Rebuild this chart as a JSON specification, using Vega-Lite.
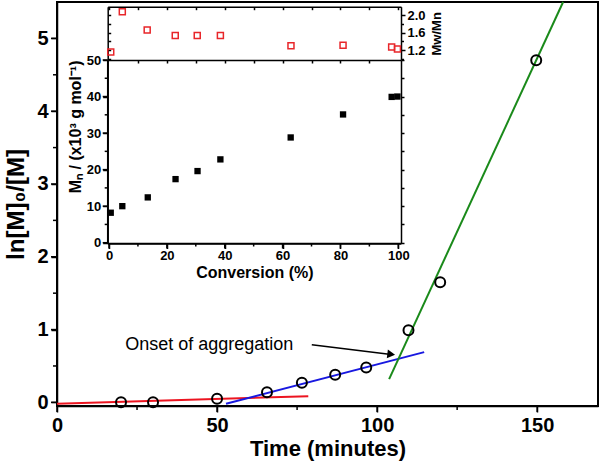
{
  "$schema": "https://vega.github.io/schema/vega-lite/v6.json",
  "width": 541,
  "height": 404,
  "autosize": {"type": "none"},
  "padding": {"left": 57, "top": 2, "right": 3, "bottom": 62},
  "background": "white",
  "config": {
    "view": {"stroke": "black", "strokeWidth": 2},
    "font": "Liberation Sans",
    "axis": {"grid": false, "zindex": 1, "domainWidth": 1.5, "tickWidth": 1.5, "labelFlush": false, "labelOverlap": false}
  },
  "datasets": {
    "fits": [
      {"fit": "red", "t": 0, "v": -0.02},
      {"fit": "red", "t": 78.5, "v": 0.085},
      {"fit": "blue", "t": 52.8, "v": -0.02},
      {"fit": "blue", "t": 114.7, "v": 0.69},
      {"fit": "green", "t": 103.75, "v": 0.32},
      {"fit": "green", "t": 158.1, "v": 5.5}
    ],
    "pts": [
      {"t": 20, "v": 0.0}, {"t": 30, "v": 0.0}, {"t": 50, "v": 0.05}, {"t": 65.6, "v": 0.14},
      {"t": 76.5, "v": 0.27}, {"t": 86.9, "v": 0.38}, {"t": 96.6, "v": 0.48}, {"t": 109.8, "v": 0.99},
      {"t": 119.7, "v": 1.65}, {"t": 149.7, "v": 4.7}
    ],
    "note": [{"t": 21.3, "v": 0.72, "label": "Onset of aggregation"}],
    "arrow": [{"t": 79.6, "v": 0.79, "t2": 104.4, "v2": 0.659}],
    "head": [{"t": 104.4, "v": 0.659}],
    "txmaj": [{"t": 0}, {"t": 50}, {"t": 100}, {"t": 150}],
    "txmin": [{"t": 25}, {"t": 75}, {"t": 125}],
    "tymaj": [{"v": 0}, {"v": 1}, {"v": 2}, {"v": 3}, {"v": 4}, {"v": 5}],
    "tymin": [{"v": 0.5}, {"v": 1.5}, {"v": 2.5}, {"v": 3.5}, {"v": 4.5}],
    "cmaj": [{"c": 0}, {"c": 20}, {"c": 40}, {"c": 60}, {"c": 80}, {"c": 100}],
    "cmin": [{"c": 10}, {"c": 30}, {"c": 50}, {"c": 70}, {"c": 90}],
    "mmaj": [{"mn": 0}, {"mn": 10}, {"mn": 20}, {"mn": 30}, {"mn": 40}, {"mn": 50}],
    "mmin": [{"mn": 5}, {"mn": 15}, {"mn": 25}, {"mn": 35}, {"mn": 45}],
    "one": [{"k": 1}],
    "mn": [
      {"c": 0.6, "mn": 8.2}, {"c": 4.6, "mn": 10.0}, {"c": 13.4, "mn": 12.4}, {"c": 23.0, "mn": 17.4},
      {"c": 30.6, "mn": 19.6}, {"c": 38.5, "mn": 22.8}, {"c": 62.8, "mn": 28.8}, {"c": 80.9, "mn": 35.1},
      {"c": 97.7, "mn": 39.9}, {"c": 99.7, "mn": 40.0}
    ],
    "pdi": [
      {"c": 0.6, "pdi": 1.155}, {"c": 4.6, "pdi": 2.075}, {"c": 13.2, "pdi": 1.659}, {"c": 22.9, "pdi": 1.532},
      {"c": 30.5, "pdi": 1.532}, {"c": 38.5, "pdi": 1.532}, {"c": 62.9, "pdi": 1.297}, {"c": 80.9, "pdi": 1.313},
      {"c": 97.7, "pdi": 1.268}, {"c": 99.7, "pdi": 1.223}
    ]
  },
  "resolve": {
    "scale": {"x": "independent", "y": "independent"},
    "axis": {"x": "independent", "y": "independent"}
  },
  "layer": [
    {
      "resolve": {"axis": {"x": "independent", "y": "independent"}},
      "layer": [
        {
          "data": {"name": "fits"},
          "mark": {"type": "line", "strokeWidth": 2},
          "encoding": {
            "x": {
              "field": "t", "type": "quantitative",
              "scale": {"domain": [0, 169], "nice": false, "zero": false},
              "axis": {
                "orient": "bottom", "title": "Time (minutes)",
                "values": [0, 50, 100, 150], "format": "d", "tickSize": 6,
                "domainColor": "black", "tickColor": "black", "labelColor": "black", "titleColor": "black",
                "labelFont": "Liberation Sans", "titleFont": "Liberation Sans", "labelFontWeight": "bold", "titleFontWeight": "bold",
                "labelFontSize": 20, "titleFontSize": 22, "labelPadding": 3, "titlePadding": 3
              }
            },
            "y": {
              "field": "v", "type": "quantitative",
              "scale": {"domain": [-0.05, 5.5], "nice": false, "zero": false},
              "axis": {
                "orient": "left", "title": "ln[M]₀/[M]",
                "values": [0, 1, 2, 3, 4, 5], "format": "d", "tickSize": 6,
                "domainColor": "black", "tickColor": "black", "labelColor": "black", "titleColor": "black",
                "labelFont": "Liberation Sans", "titleFont": "Liberation Sans", "labelFontWeight": "bold", "titleFontWeight": "bold",
                "labelFontSize": 20, "titleFontSize": 24, "labelPadding": 3, "titlePadding": 8
              }
            },
            "color": {
              "field": "fit", "type": "nominal",
              "scale": {"domain": ["red", "blue", "green"], "range": ["#ec1420", "#1818e0", "#1a8a1a"]},
              "legend": null
            }
          }
        },
        {
          "data": {"name": "pts"},
          "mark": {"type": "point", "shape": "circle", "filled": false, "stroke": "black", "strokeWidth": 2, "size": 100, "opacity": 1},
          "encoding": {
            "x": {"field": "t", "type": "quantitative", "scale": {"domain": [0, 169], "nice": false, "zero": false}, "axis": null},
            "y": {"field": "v", "type": "quantitative", "scale": {"domain": [-0.05, 5.5], "nice": false, "zero": false}, "axis": null}
          }
        },
        {
          "data": {"name": "txmaj"},
          "mark": {"type": "rule", "strokeWidth": 1.5, "color": "black"},
          "encoding": {
            "x": {"field": "t", "type": "quantitative", "scale": {"domain": [0, 169], "nice": false, "zero": false}, "axis": null},
            "y": {"datum": -0.05, "type": "quantitative", "scale": {"domain": [-0.05, 5.5], "nice": false, "zero": false}, "axis": null},
            "y2": {"datum": -0.1324}
          }
        },
        {
          "data": {"name": "txmin"},
          "mark": {"type": "rule", "strokeWidth": 1.5, "color": "black"},
          "encoding": {
            "x": {"field": "t", "type": "quantitative", "scale": {"domain": [0, 169], "nice": false, "zero": false}, "axis": null},
            "y": {"datum": -0.05, "type": "quantitative", "scale": {"domain": [-0.05, 5.5], "nice": false, "zero": false}, "axis": null},
            "y2": {"datum": -0.105}
          }
        },
        {
          "data": {"name": "tymaj"},
          "mark": {"type": "rule", "strokeWidth": 1.5, "color": "black"},
          "encoding": {
            "y": {"field": "v", "type": "quantitative", "scale": {"domain": [-0.05, 5.5], "nice": false, "zero": false}, "axis": null},
            "x": {"datum": 0, "type": "quantitative", "scale": {"domain": [0, 169], "nice": false, "zero": false}, "axis": null},
            "x2": {"datum": -1.875}
          }
        },
        {
          "data": {"name": "tymin"},
          "mark": {"type": "rule", "strokeWidth": 1.5, "color": "black"},
          "encoding": {
            "y": {"field": "v", "type": "quantitative", "scale": {"domain": [-0.05, 5.5], "nice": false, "zero": false}, "axis": null},
            "x": {"datum": 0, "type": "quantitative", "scale": {"domain": [0, 169], "nice": false, "zero": false}, "axis": null},
            "x2": {"datum": -1.25}
          }
        },
        {
          "data": {"name": "note"},
          "mark": {"type": "text", "align": "left", "baseline": "alphabetic", "fontSize": 18, "font": "Liberation Sans", "color": "black"},
          "encoding": {
            "x": {"field": "t", "type": "quantitative", "scale": {"domain": [0, 169], "nice": false, "zero": false}, "axis": null},
            "y": {"field": "v", "type": "quantitative", "scale": {"domain": [-0.05, 5.5], "nice": false, "zero": false}, "axis": null},
            "text": {"field": "label"}
          }
        },
        {
          "data": {"name": "arrow"},
          "mark": {"type": "rule", "strokeWidth": 1.5, "color": "black"},
          "encoding": {
            "x": {"field": "t", "type": "quantitative", "scale": {"domain": [0, 169], "nice": false, "zero": false}, "axis": null},
            "y": {"field": "v", "type": "quantitative", "scale": {"domain": [-0.05, 5.5], "nice": false, "zero": false}, "axis": null},
            "x2": {"field": "t2"},
            "y2": {"field": "v2"}
          }
        },
        {
          "data": {"name": "head"},
          "mark": {"type": "point", "shape": "triangle-right", "filled": true, "color": "black", "size": 80, "angle": 7, "opacity": 1},
          "encoding": {
            "x": {"field": "t", "type": "quantitative", "scale": {"domain": [0, 169], "nice": false, "zero": false}, "axis": null},
            "y": {"field": "v", "type": "quantitative", "scale": {"domain": [-0.05, 5.5], "nice": false, "zero": false}, "axis": null}
          }
        }
      ]
    },
    {
      "resolve": {"axis": {"x": "independent", "y": "independent"}},
      "layer": [
        {
          "data": {"name": "mn"},
          "mark": {"type": "point", "shape": "square", "filled": true, "color": "black", "size": 40, "opacity": 1},
          "encoding": {
            "x": {
              "field": "c", "type": "quantitative",
              "scale": {"domain": [-0.45, 100.93], "range": [50.7, 344], "nice": false, "zero": false},
              "axis": {
                "orient": "bottom", "offset": -162.5, "title": "Conversion (%)",
                "values": [0, 20, 40, 60, 80, 100], "format": "d", "tickSize": 5,
                "domainColor": "black", "tickColor": "black", "labelColor": "black", "titleColor": "black",
                "labelFont": "Liberation Sans", "titleFont": "Liberation Sans", "labelFontWeight": "bold", "titleFontWeight": "bold",
                "labelFontSize": 13, "titleFontSize": 16, "labelPadding": 1, "titlePadding": 2
              }
            },
            "y": {
              "field": "mn", "type": "quantitative",
              "scale": {"domain": [-0.22, 50], "range": [241.5, 58], "nice": false, "zero": false},
              "axis": {
                "orient": "left", "offset": -50.7, "title": "Mₙ / (x10³ g mol⁻¹)",
                "values": [0, 10, 20, 30, 40, 50], "format": "d", "tickSize": 5,
                "domainColor": "black", "tickColor": "black", "labelColor": "black", "titleColor": "black",
                "labelFont": "Liberation Sans", "titleFont": "Liberation Sans", "labelFontWeight": "bold", "titleFontWeight": "bold",
                "labelFontSize": 13, "titleFontSize": 16, "labelPadding": 2, "titlePadding": 3, "titleAnchor": "end"
              }
            }
          }
        },
        {
          "data": {"name": "mn"},
          "mark": {"type": "point", "opacity": 0},
          "encoding": {
            "x": {
              "field": "c", "type": "quantitative",
              "scale": {"domain": [-0.45, 100.93], "range": [50.7, 344], "nice": false, "zero": false},
              "axis": null
            },
            "y": {
              "field": "mn", "type": "quantitative",
              "scale": {"domain": [-0.22, 50], "range": [241.5, 58], "nice": false, "zero": false},
              "axis": {
                "orient": "right", "offset": -197, "title": null, "labels": false,
                "values": [0, 5, 10, 15, 20, 25, 30, 35, 40, 45, 50],
                "tickSize": 3, "tickColor": "black", "domainColor": "black"
              }
            }
          }
        },
        {
          "data": {"name": "one"},
          "mark": {"type": "rule", "strokeWidth": 1.5, "color": "black"},
          "encoding": {
            "x": {"datum": -0.45, "type": "quantitative", "scale": {"domain": [-0.45, 100.93], "range": [50.7, 344], "nice": false, "zero": false}, "axis": null},
            "y": {"datum": -0.22, "type": "quantitative", "scale": {"domain": [-0.22, 50], "range": [241.5, 58], "nice": false, "zero": false}, "axis": null},
            "y2": {"datum": 50}
          }
        },
        {
          "data": {"name": "one"},
          "mark": {"type": "rule", "strokeWidth": 1.5, "color": "black"},
          "encoding": {
            "x": {"datum": -0.45, "type": "quantitative", "scale": {"domain": [-0.45, 100.93], "range": [50.7, 344], "nice": false, "zero": false}, "axis": null},
            "x2": {"datum": 100.93},
            "y": {"datum": -0.22, "type": "quantitative", "scale": {"domain": [-0.22, 50], "range": [241.5, 58], "nice": false, "zero": false}, "axis": null}
          }
        },
        {
          "data": {"name": "cmaj"},
          "mark": {"type": "rule", "strokeWidth": 1.5, "color": "black"},
          "encoding": {
            "x": {"field": "c", "type": "quantitative", "scale": {"domain": [-0.45, 100.93], "range": [50.7, 344], "nice": false, "zero": false}, "axis": null},
            "y": {"datum": -0.22, "type": "quantitative", "scale": {"domain": [-0.22, 50], "range": [241.5, 58], "nice": false, "zero": false}, "axis": null},
            "y2": {"datum": -1.588}
          }
        },
        {
          "data": {"name": "cmin"},
          "mark": {"type": "rule", "strokeWidth": 1.5, "color": "black"},
          "encoding": {
            "x": {"field": "c", "type": "quantitative", "scale": {"domain": [-0.45, 100.93], "range": [50.7, 344], "nice": false, "zero": false}, "axis": null},
            "y": {"datum": -0.22, "type": "quantitative", "scale": {"domain": [-0.22, 50], "range": [241.5, 58], "nice": false, "zero": false}, "axis": null},
            "y2": {"datum": -1.041}
          }
        },
        {
          "data": {"name": "mmaj"},
          "mark": {"type": "rule", "strokeWidth": 1.5, "color": "black"},
          "encoding": {
            "y": {"field": "mn", "type": "quantitative", "scale": {"domain": [-0.22, 50], "range": [241.5, 58], "nice": false, "zero": false}, "axis": null},
            "x": {"datum": -0.45, "type": "quantitative", "scale": {"domain": [-0.45, 100.93], "range": [50.7, 344], "nice": false, "zero": false}, "axis": null},
            "x2": {"datum": -2.178}
          }
        },
        {
          "data": {"name": "mmin"},
          "mark": {"type": "rule", "strokeWidth": 1.5, "color": "black"},
          "encoding": {
            "y": {"field": "mn", "type": "quantitative", "scale": {"domain": [-0.22, 50], "range": [241.5, 58], "nice": false, "zero": false}, "axis": null},
            "x": {"datum": -0.45, "type": "quantitative", "scale": {"domain": [-0.45, 100.93], "range": [50.7, 344], "nice": false, "zero": false}, "axis": null},
            "x2": {"datum": -1.487}
          }
        }
      ]
    },
    {
      "resolve": {"axis": {"x": "independent", "y": "independent"}},
      "layer": [
        {
          "data": {"name": "pdi"},
          "mark": {"type": "point", "shape": "square", "filled": false, "stroke": "#e8262a", "strokeWidth": 1.5, "size": 36, "opacity": 1},
          "encoding": {
            "x": {
              "field": "c", "type": "quantitative",
              "scale": {"domain": [-0.45, 100.93], "range": [50.7, 344], "nice": false, "zero": false},
              "axis": {
                "orient": "bottom", "offset": -346, "title": null, "labels": false,
                "values": [10, 20, 30, 40, 50, 60, 70, 80, 90],
                "tickSize": 3, "tickColor": "black", "domainColor": "black"
              }
            },
            "y": {
              "field": "pdi", "type": "quantitative",
              "scale": {"domain": [0.974, 2.19], "range": [58, 4.7], "nice": false, "zero": false},
              "axis": {
                "orient": "right", "offset": -197, "title": "Mw/Mn",
                "values": [1.2, 1.6, 2.0], "format": ".1f", "tickSize": 4,
                "domainColor": "black", "tickColor": "black", "labelColor": "black", "titleColor": "black",
                "labelFont": "Liberation Sans", "titleFont": "Liberation Sans", "labelFontWeight": "bold", "titleFontWeight": "bold",
                "labelFontSize": 13, "titleFontSize": 13, "labelPadding": 2, "titlePadding": 5,
                "titleAngle": -90, "titleBaseline": "top"
              }
            }
          }
        },
        {
          "data": {"name": "pdi"},
          "mark": {"type": "point", "opacity": 0},
          "encoding": {
            "x": {
              "field": "c", "type": "quantitative",
              "scale": {"domain": [-0.45, 100.93], "range": [50.7, 344], "nice": false, "zero": false},
              "axis": {
                "orient": "bottom", "offset": -399.3, "title": null, "labels": false,
                "values": [0, 10, 20, 30, 40, 50, 60, 70, 80, 90, 100],
                "tickSize": 3, "tickColor": "black", "domainColor": "black"
              }
            },
            "y": {
              "field": "pdi", "type": "quantitative",
              "scale": {"domain": [0.974, 2.19], "range": [58, 4.7], "nice": false, "zero": false},
              "axis": {
                "orient": "right", "offset": -490.3, "title": null, "labels": false,
                "values": [1.0, 1.2, 1.4, 1.6, 1.8, 2.0],
                "tickSize": 3, "tickColor": "black", "domainColor": "black"
              }
            }
          }
        },
        {
          "data": {"name": "pdi"},
          "mark": {"type": "point", "opacity": 0},
          "encoding": {
            "x": {
              "field": "c", "type": "quantitative",
              "scale": {"domain": [-0.45, 100.93], "range": [50.7, 344], "nice": false, "zero": false},
              "axis": null
            },
            "y": {
              "field": "pdi", "type": "quantitative",
              "scale": {"domain": [0.974, 2.19], "range": [58, 4.7], "nice": false, "zero": false},
              "axis": {
                "orient": "right", "offset": -197, "title": null, "labels": false, "domain": false,
                "values": [1.0, 1.4, 1.8], "tickSize": 2.5, "tickColor": "black"
              }
            }
          }
        }
      ]
    }
  ]
}
